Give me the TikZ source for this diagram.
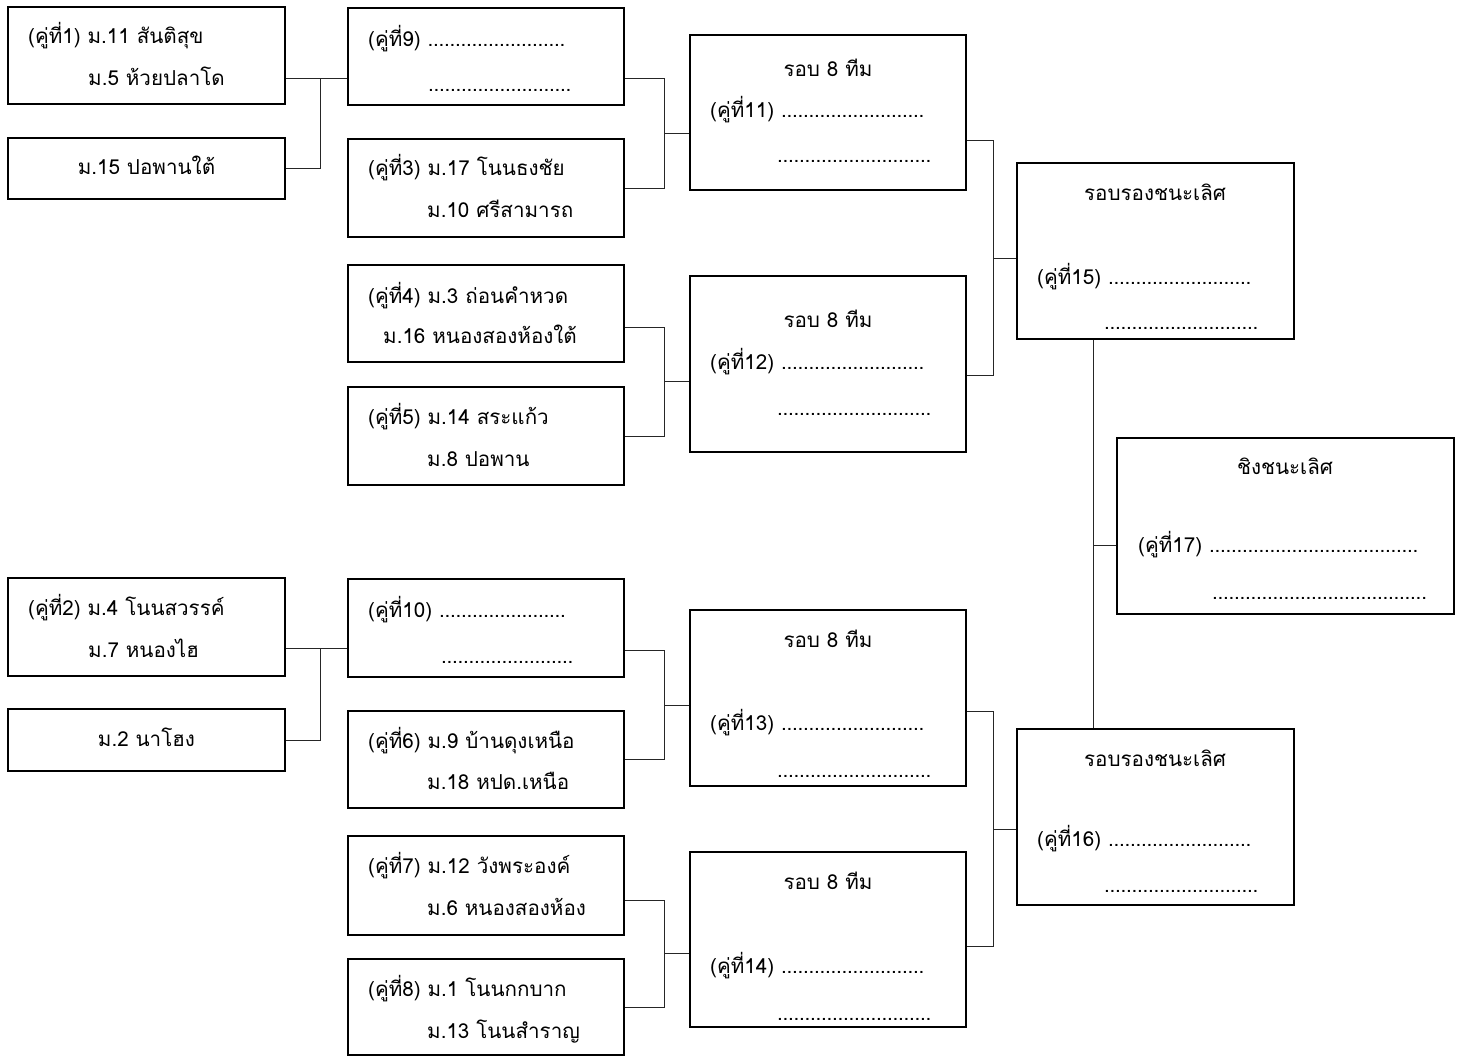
\documentclass[tikz,border=0pt]{standalone}
\usepackage{fontspec}
\setmainfont[Script=Thai]{Loma}
\usetikzlibrary{
    calc,
    positioning
}

\newcommand\dotrow[1]{\makebox[#1pt][l]{\leaders\hbox to 5.5pt{\hss.\hss}\hfill}}

\tikzset{
    box/.style={draw, line width=1.3pt, inner sep=0pt},
    txt/.style={anchor=base west, inner sep=0pt, font=\fontsize{20.6}{24}\selectfont},
    ctr/.style={anchor=base, inner sep=0pt, font=\fontsize{20.6}{24}\selectfont},
    link/.style={line width=0.7pt, black!85}
}

\newcommand\joinpair[4]{
    \path (#2) coordinate (w);
    \draw[link] (#1) -- ++(#4,0) coordinate (u) |- (w);
    \path ($(u)!.5!(u |- w)$) coordinate (v);
    \draw[link] (v) -- (v -| #3.west);
}

\begin{document}
\begin{tikzpicture}[x=1pt, y=-1pt]
    \useasboundingbox (0,0) rectangle (1463,1057);

    \node[box, minimum width=277pt, minimum height=97pt] (m1) at (146.5,55.5) {};
    \node[box, minimum width=277pt, minimum height=61pt] (m1x) at (146.5,168.5) {};
    \node[box, minimum width=277pt, minimum height=98pt] (m2) at (146.5,627) {};
    \node[box, minimum width=277pt, minimum height=62pt] (m2x) at (146.5,740) {};

    \node[box, minimum width=276pt, minimum height=97pt] (m9) at (486,56.5) {};
    \node[box, minimum width=276pt, minimum height=98pt] (m3) at (486,188) {};
    \node[box, minimum width=276pt, minimum height=97pt] (m4) at (486,313.5) {};
    \node[box, minimum width=276pt, minimum height=98pt] (m5) at (486,436) {};
    \node[box, minimum width=276pt, minimum height=98pt] (m10) at (486,628) {};
    \node[box, minimum width=276pt, minimum height=97pt] (m6) at (486,759.5) {};
    \node[box, minimum width=276pt, minimum height=99pt] (m7) at (486,885.5) {};
    \node[box, minimum width=276pt, minimum height=96pt] (m8) at (486,1007) {};

    \node[box, minimum width=276pt, minimum height=155pt] (m11) at (828,112.5) {};
    \node[box, minimum width=276pt, minimum height=176pt] (m12) at (828,364) {};
    \node[box, minimum width=276pt, minimum height=176pt] (m13) at (828,698) {};
    \node[box, minimum width=276pt, minimum height=175pt] (m14) at (828,939.5) {};

    \node[box, minimum width=277pt, minimum height=176pt] (semi1) at (1155.5,251) {};
    \node[box, minimum width=277pt, minimum height=176pt] (semi2) at (1155.5,817) {};
    \node[box, minimum width=337pt, minimum height=176pt] (final) at (1285.5,526) {};

    \node[txt] (t1a) at (28,44) {(คู่ที่1) ม.11 สันติสุข};
    \node[txt] (t1b) at (88,85) {ม.5 ห้วยปลาโด};
    \node[ctr] (t1x) at (146.5,174) {ม.15 ปอพานใต้};
    \node[txt] (t2a) at (28,615) {(คู่ที่2) ม.4 โนนสวรรค์};
    \node[txt] (t2b) at (88,657) {ม.7 หนองไฮ};
    \node[ctr] (t2x) at (146.5,746) {ม.2 นาโฮง};

    \node[txt] (t9a) at (368,47) {(คู่ที่9) \dotrow{140}};
    \node[txt] (t9b) at (428,92) {\dotrow{146}};
    \node[txt] (t3a) at (368,175) {(คู่ที่3) ม.17 โนนธงชัย};
    \node[txt] (t3b) at (427,217) {ม.10 ศรีสามารถ};
    \node[txt] (t4a) at (368,303) {(คู่ที่4) ม.3 ถ่อนคำหวด};
    \node[txt] (t4b) at (383,343) {ม.16 หนองสองห้องใต้};
    \node[txt] (t5a) at (368,424) {(คู่ที่5) ม.14 สระแก้ว};
    \node[txt] (t5b) at (427,466) {ม.8 ปอพาน};
    \node[txt] (t10a) at (368,617) {(คู่ที่10) \dotrow{131}};
    \node[txt] (t10b) at (441,663) {\dotrow{132}};
    \node[txt] (t6a) at (368,748) {(คู่ที่6) ม.9 บ้านดุงเหนือ};
    \node[txt] (t6b) at (427,789) {ม.18 หปด.เหนือ};
    \node[txt] (t7a) at (368,873) {(คู่ที่7) ม.12 วังพระองค์};
    \node[txt] (t7b) at (427,915) {ม.6 หนองสองห้อง};
    \node[txt] (t8a) at (368,996) {(คู่ที่8) ม.1 โนนกกบาก};
    \node[txt] (t8b) at (427,1038) {ม.13 โนนสำราญ};

    \node[ctr] (h11) at (828,76) {รอบ 8 ทีม};
    \node[txt] (t11a) at (710,117) {(คู่ที่11) \dotrow{148}};
    \node[txt] (t11b) at (777,162) {\dotrow{156}};
    \node[ctr] (h12) at (828,327) {รอบ 8 ทีม};
    \node[txt] (t12a) at (710,369) {(คู่ที่12) \dotrow{148}};
    \node[txt] (t12b) at (777,415) {\dotrow{156}};
    \node[ctr] (h13) at (828,647) {รอบ 8 ทีม};
    \node[txt] (t13a) at (710,730) {(คู่ที่13) \dotrow{148}};
    \node[txt] (t13b) at (777,777) {\dotrow{156}};
    \node[ctr] (h14) at (828,889) {รอบ 8 ทีม};
    \node[txt] (t14a) at (710,973) {(คู่ที่14) \dotrow{148}};
    \node[txt] (t14b) at (777,1020) {\dotrow{156}};

    \node[ctr] (h15) at (1155,200) {รอบรองชนะเลิศ};
    \node[txt] (t15a) at (1037,284) {(คู่ที่15) \dotrow{147}};
    \node[txt] (t15b) at (1104,329) {\dotrow{158}};
    \node[ctr] (h16) at (1155,766) {รอบรองชนะเลิศ};
    \node[txt] (t16a) at (1037,846) {(คู่ที่16) \dotrow{147}};
    \node[txt] (t16b) at (1104,892) {\dotrow{158}};
    \node[ctr] (h17) at (1285,474) {ชิงชนะเลิศ};
    \node[txt] (t17a) at (1138,552) {(คู่ที่17) \dotrow{212}};
    \node[txt] (t17b) at (1212,599) {\dotrow{216}};

    \coordinate (j1) at ([yshift=26pt]m1.south east);
    \draw[link] (j1) -- (j1 -| m9.west);
    \draw[link] (m1x.east) -| ([xshift=35pt]j1);
    \coordinate (j2) at ([yshift=28pt]m2.south east);
    \draw[link] (j2) -- (j2 -| m10.west);
    \draw[link] (m2x.east) -| ([xshift=35pt]j2);

    \joinpair{[yshift=27pt]m9.south east}{m3.east}{m11}{40}
    \joinpair{[yshift=35pt]m4.south east}{m5.east}{m12}{40}
    \joinpair{[yshift=27pt]m10.south east}{m6.east}{m13}{40}
    \joinpair{[yshift=35pt]m7.south east}{m8.east}{m14}{40}

    \joinpair{[yshift=50pt]m11.south east}{[yshift=77pt]m12.south east}{semi1}{27}
    \joinpair{[yshift=75pt]m13.south east}{[yshift=81pt]m14.south east}{semi2}{27}

    \coordinate (s) at ([xshift=-62pt]semi1.south);
    \coordinate (f) at ([yshift=-19pt]final.west);
    \draw[link] (s) -- (s |- semi2.north);
    \draw[link] (f) -- (f -| s);
\end{tikzpicture}
\end{document}
